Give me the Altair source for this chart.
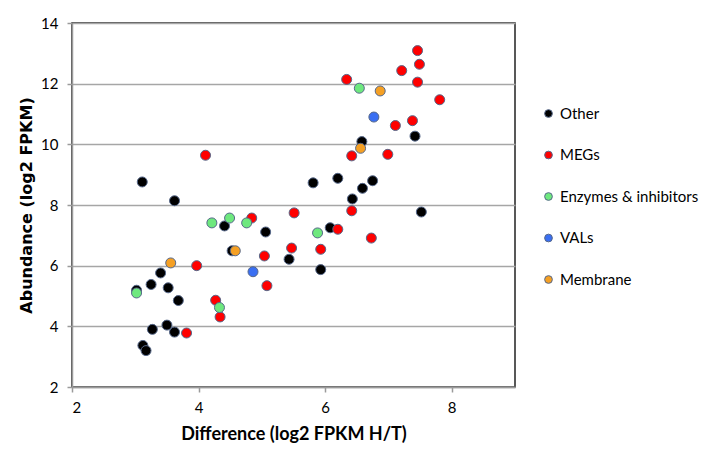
import altair as alt
import pandas as pd

categories = ["Other", "MEGs", "Enzymes & inhibitors", "VALs", "Membrane"]
colors = ["#000000", "#ff0000", "#6ee87e", "#3a6ff2", "#f5a024"]

other_x = [3.11, 3.62, 4.41, 5.06, 4.53, 5.43, 5.93, 5.81, 6.20, 6.08, 6.58, 6.59, 6.43, 6.75, 7.42, 7.52,
           3.40, 3.25, 3.52, 3.68, 3.02, 3.27, 3.50, 3.62, 3.12, 3.17]
other_y = [8.76, 8.14, 7.31, 7.11, 6.49, 6.21, 5.87, 8.73, 8.88, 7.25, 10.09, 8.55, 8.20, 8.80, 10.27, 7.77,
           5.76, 5.38, 5.27, 4.85, 5.19, 3.90, 4.04, 3.81, 3.37, 3.20]

megs_x = [4.11, 4.84, 5.51, 5.04, 5.47, 5.93, 5.08, 3.97, 4.27, 4.34, 3.81, 6.20, 6.42, 6.73, 6.42, 6.99,
          7.11, 7.38, 6.34, 7.21, 7.46, 7.49, 7.46, 7.81]
megs_y = [9.64, 7.57, 7.74, 6.32, 6.58, 6.54, 5.34, 6.00, 4.86, 4.31, 3.78, 7.20, 7.81, 6.91, 9.62, 9.67,
          10.62, 10.78, 12.14, 12.43, 13.09, 12.64, 12.05, 11.47]

enz_x = [3.02, 4.21, 4.49, 4.76, 4.33, 5.88, 6.54]
enz_y = [5.10, 7.41, 7.57, 7.41, 4.62, 7.08, 11.85]

vals_x = [4.86, 6.77]
vals_y = [5.80, 10.90]

mem_x = [3.56, 4.58, 6.56, 6.87]
mem_y = [6.09, 6.49, 9.87, 11.76]

series = [(categories[0], other_x, other_y), (categories[1], megs_x, megs_y),
          (categories[2], enz_x, enz_y), (categories[3], vals_x, vals_y),
          (categories[4], mem_x, mem_y)]
rows = []
for name, xs, ys in series:
    for x, y in zip(xs, ys):
        rows.append({"Group": name, "Difference": x, "Abundance": y})
df = pd.DataFrame(rows)

chart = alt.Chart(df).mark_circle(
    size=100, opacity=1, stroke="#56688a", strokeWidth=1
).encode(
    x=alt.X("Difference:Q", scale=alt.Scale(domain=[2, 9], nice=False),
            axis=alt.Axis(title="Difference (log2 FPKM H/T)", values=[2, 4, 6, 8], grid=False,
                          tickSize=5, labelPadding=8, titlePadding=10)),
    y=alt.Y("Abundance:Q", scale=alt.Scale(domain=[2, 14], nice=False),
            axis=alt.Axis(title="Abundance (log2 FPKM)", values=[2, 4, 6, 8, 10, 12, 14],
                          tickSize=5, labelPadding=9, titlePadding=6,
                          titleFont="DejaVu Sans", titleFontSize=16)),
    color=alt.Color("Group:N", scale=alt.Scale(domain=categories, range=colors),
                    legend=alt.Legend(title=None, orient="none", legendX=469, legendY=83,
                                      symbolSize=60, symbolType="circle", labelFontSize=15,
                                      rowPadding=25.5, symbolStrokeColor="#56688a",
                                      symbolStrokeWidth=1, labelFont="Lato",
                                      labelColor="#000000", symbolOffset=0)),
    order=alt.Order("o:Q"),
).transform_calculate(o="0").properties(
    width=443, height=364,
    autosize=alt.AutoSizeParams(type="none"),
    padding={"left": 64, "top": 15, "right": 198, "bottom": 65},
).configure_view(
    stroke="#222222", strokeWidth=1.5
).configure_axis(
    labelFont="Lato", labelFontSize=15, labelColor="#000000",
    titleFont="Lato", titleFontSize=18, titleFontWeight="bold", titleColor="#000000",
    domainColor="#9a9a9a", domainWidth=1.5, tickColor="#9a9a9a", tickWidth=1.5,
    gridColor="#a6a6a6", gridWidth=1.5,
)

chart.save("out.html", embed_options={"renderer": "svg", "actions": False})
